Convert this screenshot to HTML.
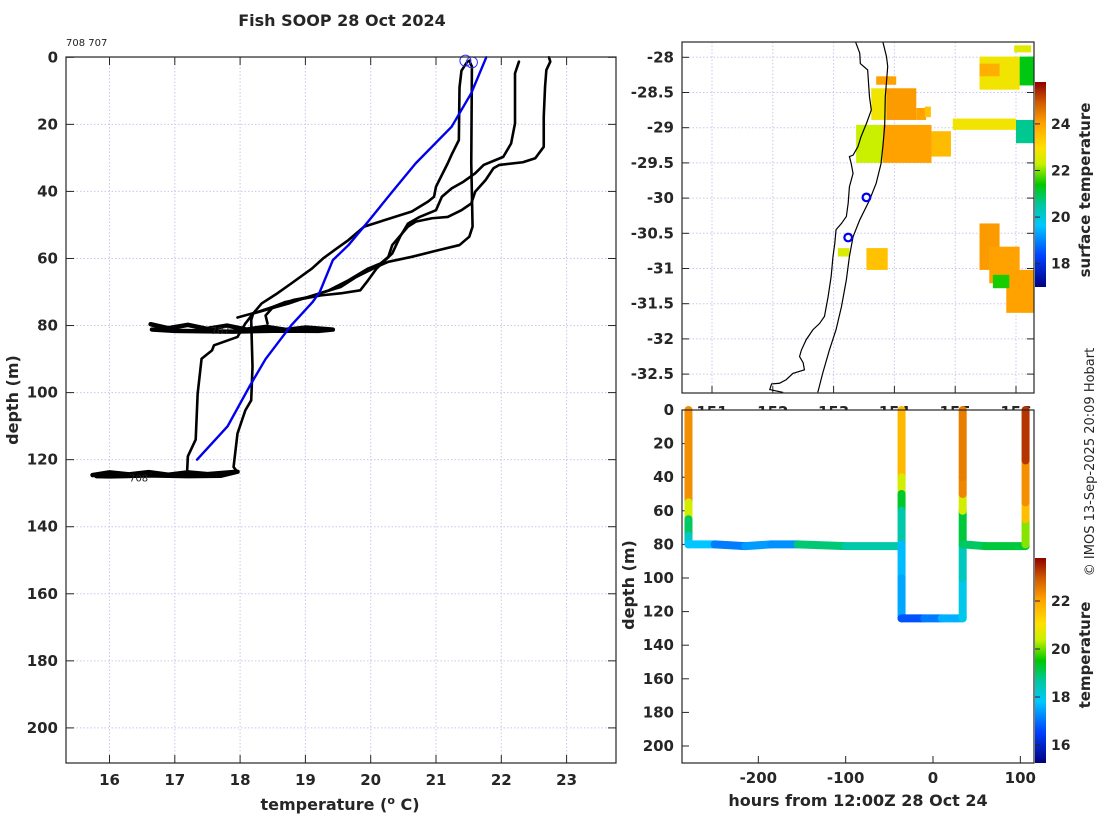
<!DOCTYPE html>
<html><head><meta charset="utf-8"><style>
html,body{margin:0;padding:0;background:#fff;}
svg{display:block;font-family:"DejaVu Sans","Liberation Sans",sans-serif;}
.tk{font-size:15px;font-weight:bold;fill:#262626;}
.lab{font-size:16px;font-weight:bold;fill:#262626;}
</style></head><body>
<svg id="chart" width="1100" height="820" viewBox="0 0 1100 820" xmlns="http://www.w3.org/2000/svg">
<defs>
<linearGradient id="jet" x1="0" y1="1" x2="0" y2="0">
<stop offset="0" stop-color="#00007f"/><stop offset="0.15" stop-color="#0040ff"/><stop offset="0.3" stop-color="#00c8ff"/><stop offset="0.4" stop-color="#00c8a0"/><stop offset="0.5" stop-color="#00c800"/><stop offset="0.6" stop-color="#c8f000"/><stop offset="0.68" stop-color="#ffe000"/><stop offset="0.8" stop-color="#ffa000"/><stop offset="0.9" stop-color="#d05a00"/><stop offset="1" stop-color="#8f0000"/>
</linearGradient>
</defs>
<g id="left"></g><g id="map"></g><g id="bottom"></g>
<text x="342" y="26" text-anchor="middle" class="lab">Fish SOOP 28 Oct 2024</text>
<text x="66" y="46" font-size="10" fill="#222">708 707</text>
<text x="340" y="810" text-anchor="middle" class="lab">temperature (<tspan font-size="11" dy="-6">o</tspan><tspan dy="6"> C)</tspan></text>
<text transform="translate(18,400) rotate(-90)" text-anchor="middle" class="lab">depth (m)</text>
<text x="858" y="806" text-anchor="middle" class="lab">hours from 12:00Z 28 Oct 24</text>
<text transform="translate(634,585) rotate(-90)" text-anchor="middle" class="lab">depth (m)</text>
<text transform="translate(1090,190) rotate(-90)" text-anchor="middle" font-size="15" font-weight="bold" fill="#262626">surface temperature</text>
<text transform="translate(1090,655) rotate(-90)" text-anchor="middle" font-size="15" font-weight="bold" fill="#262626">temperature</text>
<text transform="translate(1094,462) rotate(-90)" text-anchor="middle" font-size="13" fill="#262626">© IMOS 13-Sep-2025 20:09 Hobart</text>
</svg>
<script>
// ---------- data: left profiles ----------
const blueT=[21.77,21.54,21.24,20.69,20.33,19.96,19.66,19.42,19.22,19.11,18.78,18.39,18.14,17.81,17.34];
const blueD=[0,10.7,20.7,31.6,40.1,49,56,60.5,70,73,80,90,98.3,110,120];
const profAT=[21.48,21.39,21.36,21.35,21.24,21.18,21.0,20.97,20.88,20.63,19.9,19.66,19.48,19.27,19.1,18.78,18.57,18.33,18.2,18.08,17.96,17.6,17.57,17.41,17.35,17.32,17.2,17.19];
const profAD=[1.3,4,9,24.7,29,31.6,38.6,41.6,43,46,50.5,54.5,57,60,63,67.5,70.4,73.4,76.4,79.4,83.4,85.9,87.4,89.9,100.3,114,119,123];
const profBT=[21.51,21.55,21.54,21.56,21.51,21.36,21.0,20.63,20.27,20.09,19.78,19.54,19.05,18.75,18.2,18.17,18.19,18.17,18.08,17.96,17.9,17.96];
const profBD=[1,2.8,31.6,50.5,53.5,56,57.7,59.5,61,62.5,65.5,68.5,71.4,73.4,76.4,78.4,92.3,102.3,105.3,112.2,122.2,123.7];
const profCT=[22.27,22.21,22.21,22.15,22.03,21.73,21.6,21.42,21.24,21.09,21.0,20.75,20.57,20.45,20.33,20.09,19.96,19.84,19.54,19.24,18.69,18.51,18.39,18.42];
const profCD=[1.3,4.8,19.7,25.7,29.7,32.1,34.6,37.1,39.1,41.6,45.6,47.6,49.6,53.5,58.5,63,66.5,69.5,70.4,71,73,74.4,77,79.4];
const profDT=[22.73,22.75,22.69,22.67,22.65,22.65,22.52,22.33,21.97,21.88,21.76,21.6,21.54,21.39,21.18,20.94,20.69,20.57,20.33,20.27,20.15,19.96,19.66,19.36,19.05,18.81,18.51,18.26,17.96];
const profDD=[0,1.3,3.8,8.8,17.7,26.7,30.1,31.3,32.1,33.1,36.6,40.1,43.6,45.6,47.6,48,49,50.5,56,59.5,61.5,63,66.5,69.5,71.5,72.4,74.4,76,77.6];
const blob80T=[16.63,16.9,17.2,17.5,17.8,18.1,18.4,18.7,19.0,19.42,19.2,18.6,17.9,17.0,16.65];
const blob80D=[79.6,80.8,79.8,81.0,80.0,81.2,80.4,81.3,80.6,81.2,81.6,81.5,81.8,81.6,81.2];
const blob124T=[15.74,16.0,16.3,16.6,16.9,17.2,17.5,17.96,17.7,17.2,16.6,16.0,15.8];
const blob124D=[124.6,123.8,124.4,123.7,124.5,123.8,124.3,123.6,124.8,124.9,124.7,125.0,124.9];
const startT=[21.45,21.55];const startD=[1,1.5];
const leftXTicks=[16,17,18,19,20,21,22,23];
const leftYTicks=[0,20,40,60,80,100,120,140,160,180,200];
// ---------- data: map ----------
const coastLon=[153.36,153.43,153.44,153.56,153.59,153.62,153.54,153.45,153.40,153.32,153.26,153.29,153.32,153.26,153.24,153.21,153.13,153.04,153.02,152.99,152.96,152.91,152.85,152.77,152.66,152.55,152.47,152.44,152.50,152.52,152.33,152.22,152.11,151.98,151.95,152.17];
const coastLat=[-27.78,-27.94,-28.09,-28.18,-28.56,-28.75,-28.94,-29.13,-29.27,-29.39,-29.41,-29.51,-29.65,-29.84,-30.07,-30.26,-30.36,-30.45,-30.64,-30.83,-31.11,-31.40,-31.68,-31.78,-31.87,-32.01,-32.16,-32.25,-32.34,-32.44,-32.49,-32.58,-32.63,-32.64,-32.72,-32.76];
const isoLon=[153.81,153.87,153.89,153.85,153.84,153.81,153.78,153.70,153.59,153.43,153.32,153.26,153.21,153.13,153.04,152.93,152.82,152.74];
const isoLat=[-27.78,-27.99,-28.13,-28.56,-28.98,-29.27,-29.51,-29.79,-30.03,-30.31,-30.55,-30.83,-31.16,-31.54,-31.87,-32.16,-32.49,-32.76];
const sstLon0=[155.40,155.40,156.06,153.70,153.62,153.87,154.36,153.37,153.81,154.61,156.0,154.96,153.54,153.07,155.40,155.56,155.84,155.62,155.97,154.5];
const sstLon1=[156.06,155.73,156.29,154.03,153.87,154.36,154.52,153.81,154.61,154.93,156.29,156.0,153.89,153.26,155.73,156.06,156.29,155.89,156.25,154.6];
const sstLat0=[-27.99,-28.09,-27.99,-28.27,-28.44,-28.44,-28.72,-28.96,-28.96,-29.05,-28.89,-28.87,-30.71,-30.71,-30.36,-30.69,-31.02,-31.09,-27.83,-28.70];
const sstLat1=[-28.46,-28.27,-28.40,-28.39,-28.89,-28.89,-28.89,-29.50,-29.50,-29.41,-29.22,-29.03,-31.02,-30.83,-31.02,-31.21,-31.63,-31.28,-27.93,-28.85];
const sstVal=[22.8,23.8,21.3,24.0,22.8,24.1,24.0,22.3,24.0,23.6,20.6,22.8,23.5,22.5,24.1,24.0,24.0,21.5,22.6,23.5];
const shipLon=[153.54,153.24];const shipLat=[-29.99,-30.56];
const mapLonTicks=[151,152,153,154,155,156];
const mapLatTicks=[-28,-28.5,-29,-29.5,-30,-30.5,-31,-31.5,-32,-32.5];
const sstCbTicks=[18,20,22,24];
// ---------- data: track section ----------
const trkH=[-280,-280,-280,-280,-280,-250,-215,-185,-155,-100,-36,-36,-36,-36,-36,-36,-36,-36,-36,-10,10,34,34,34,34,34,34,34,34,60,106,106,106,106,106,106];
const trkD=[0,55,65,75,80,80,81,80,80,81,81,0,40,50,60,80,100,124,124,124,124,124,100,80,60,50,40,0,80,81,81,80,65,55,30,0];
const trkT=[22.5,22.3,20.5,19.0,18.3,17.8,17.1,17.4,17.3,18.9,18.6,21.8,21.7,20.5,19.3,18.6,17.7,17.5,16.9,16.7,17.1,17.6,18.0,18.4,19.2,20.5,22.4,22.5,18.6,19.0,19.2,19.2,20.1,21.6,22.3,23.3];
const trkBreak=[11,28]; // indexes where a new pen segment starts
const botXTicks=[-200,-100,0,100];
const botYTicks=[0,20,40,60,80,100,120,140,160,180,200];
const tCbTicks=[16,18,20,22];

// ---------- helpers ----------
const NS='http://www.w3.org/2000/svg';
function mk(parent,tag,attrs){const e=document.createElementNS(NS,tag);for(const k in attrs)e.setAttribute(k,attrs[k]);parent.appendChild(e);return e;}
const stops=[[0,[0,0,127]],[0.15,[0,64,255]],[0.3,[0,200,255]],[0.4,[0,200,160]],[0.5,[0,200,0]],[0.6,[200,240,0]],[0.68,[255,224,0]],[0.8,[255,160,0]],[0.9,[208,90,0]],[1,[143,0,0]]];
function jet(f){f=Math.max(0,Math.min(1,f));for(let i=1;i<stops.length;i++){if(f<=stops[i][0]){const a=stops[i-1],b=stops[i];const u=(f-a[0])/(b[0]-a[0]);const c=a[1].map((v,j)=>Math.round(v+(b[1][j]-v)*u));return 'rgb('+c.join(',')+')';}}return 'rgb(143,0,0)';}

// ---------- left plot ----------
const xL=t=>109.5+(t-16)*65.3, yL=d=>57.3+d*3.353;
const L=document.getElementById('left');
const LX0=66,LX1=616,LY0=57,LY1=763;
leftXTicks.forEach(t=>{const l=mk(L,'line',{x1:xL(t),x2:xL(t),y1:LY0,y2:LY1,stroke:'#c8c8ec','stroke-dasharray':'1.5,2','stroke-width':1});
 const a=mk(L,'line',{x1:xL(t),x2:xL(t),y1:LY1,y2:LY1-8,stroke:'#262626'});
 const b=mk(L,'line',{x1:xL(t),x2:xL(t),y1:LY0,y2:LY0+8,stroke:'#262626'});
 const s=mk(L,'text',{x:xL(t),y:LY1+22,'text-anchor':'middle',class:'tk'});s.textContent=t;});
leftYTicks.forEach(d=>{const l=mk(L,'line',{x1:LX0,x2:LX1,y1:yL(d),y2:yL(d),stroke:'#c8c8ec','stroke-dasharray':'1.5,2'});
 const a=mk(L,'line',{x1:LX0,x2:LX0+8,y1:yL(d),y2:yL(d),stroke:'#262626'});
 const b=mk(L,'line',{x1:LX1,x2:LX1-8,y1:yL(d),y2:yL(d),stroke:'#262626'});
 const s=mk(L,'text',{x:LX0-8,y:yL(d)+5,'text-anchor':'end',class:'tk'});s.textContent=d;});
function pline(g,T,D,col,w,name){const p=mk(g,'polyline',{points:T.map((t,i)=>xL(t)+','+yL(D[i])).join(' '),fill:'none',stroke:col,'stroke-width':w,'stroke-linejoin':'round','stroke-linecap':'round'});}
pline(L,blob80T,blob80D,'#000',4.5,'profile-bottom-scatter-80m');
pline(L,blob124T,blob124D,'#000',4.5,'profile-bottom-scatter-124m');
pline(L,profAT,profAD,'#000',2.6,'profile-a');
pline(L,profBT,profBD,'#000',2.6,'profile-b');
pline(L,profCT,profCD,'#000',2.6,'profile-c');
pline(L,profDT,profDD,'#000',2.6,'profile-d');
pline(L,blueT,blueD,'#0000ee',2.4,'climatology-profile');
startT.forEach((t,i)=>{const c=mk(L,'circle',{cx:xL(t),cy:yL(startD[i]),r:5.5,fill:'none',stroke:'#3030ff','stroke-width':1});});
{const a=mk(L,'text',{x:xL(17.55),y:yL(82.5),'font-size':10,fill:'#222'});a.textContent='707';
 const b=mk(L,'text',{x:xL(16.3),y:yL(126.5),'font-size':10,fill:'#222'});b.textContent='708';}
{const r=mk(L,'rect',{x:LX0,y:LY0,width:LX1-LX0,height:LY1-LY0,fill:'none',stroke:'#262626','stroke-width':1.2});}

// ---------- map ----------
const xM=lon=>712+(lon-151)*60.8, yM=lat=>57.3+(-28-lat)*70.4;
const M=document.getElementById('map');
const MX0=682,MX1=1034,MY0=42,MY1=393;
mapLonTicks.forEach(v=>{const l=mk(M,'line',{x1:xM(v),x2:xM(v),y1:MY0,y2:MY1,stroke:'#c8c8ec','stroke-dasharray':'1.5,2'});
 const a=mk(M,'line',{x1:xM(v),x2:xM(v),y1:MY1,y2:MY1-7,stroke:'#262626'});
 const s=mk(M,'text',{x:xM(v),y:MY1+24,'text-anchor':'middle',class:'tk'});s.textContent=v;});
mapLatTicks.forEach(v=>{const l=mk(M,'line',{x1:MX0,x2:MX1,y1:yM(v),y2:yM(v),stroke:'#c8c8ec','stroke-dasharray':'1.5,2'});
 const a=mk(M,'line',{x1:MX0,x2:MX0+7,y1:yM(v),y2:yM(v),stroke:'#262626'});
 const b=mk(M,'line',{x1:MX1,x2:MX1-7,y1:yM(v),y2:yM(v),stroke:'#262626'});
 const s=mk(M,'text',{x:MX0-8,y:yM(v)+5,'text-anchor':'end',class:'tk'});s.textContent=v;});
const sstF=v=>(v-17)/8.8;
sstVal.forEach((v,i)=>{const r=mk(M,'rect',{x:xM(sstLon0[i]),y:yM(sstLat0[i]),width:xM(sstLon1[i])-xM(sstLon0[i]),height:yM(sstLat1[i])-yM(sstLat0[i]),fill:jet(sstF(v))});});
{const p=mk(M,'polyline',{points:coastLon.map((v,i)=>xM(v)+','+yM(coastLat[i])).join(' '),fill:'none',stroke:'#000','stroke-width':1.2});
 const q=mk(M,'polyline',{points:isoLon.map((v,i)=>xM(v)+','+yM(isoLat[i])).join(' '),fill:'none',stroke:'#000','stroke-width':1.2});}
shipLon.forEach((v,i)=>{const c=mk(M,'circle',{cx:xM(v),cy:yM(shipLat[i]),r:3.8,fill:'none',stroke:'#0000ee','stroke-width':2.2});});
{const r=mk(M,'rect',{x:MX0,y:MY0,width:MX1-MX0,height:MY1-MY0,fill:'none',stroke:'#262626','stroke-width':1.2});}
const ySC=v=>287-(v-17)*23.3;
{const r=mk(M,'rect',{x:1035,y:82,width:11,height:205,fill:'url(#jet)'});}
sstCbTicks.forEach(v=>{const a=mk(M,'line',{x1:1035,x2:1040,y1:ySC(v),y2:ySC(v),stroke:'#262626'});
 const s=mk(M,'text',{x:1051,y:ySC(v)+5,'font-size':14,'font-weight':'bold',fill:'#262626'});s.textContent=v;});

// ---------- bottom section ----------
const xB=h=>933+h*0.8733, yB=d=>410+d*1.68;
const B=document.getElementById('bottom');
const BX0=682,BX1=1034,BY0=410,BY1=763;
{const r=mk(B,'rect',{x:BX0,y:BY0,width:BX1-BX0,height:BY1-BY0,fill:'#fff'});}
botXTicks.forEach(v=>{const a=mk(B,'line',{x1:xB(v),x2:xB(v),y1:BY1,y2:BY1-7,stroke:'#262626'});
 const s=mk(B,'text',{x:xB(v),y:BY1+20,'text-anchor':'middle',class:'tk'});s.textContent=v;});
botYTicks.forEach(v=>{const a=mk(B,'line',{x1:BX0,x2:BX0+7,y1:yB(v),y2:yB(v),stroke:'#262626'});
 const s=mk(B,'text',{x:BX0-8,y:yB(v)+5,'text-anchor':'end',class:'tk'});s.textContent=v;});
const tF=v=>(v-15.25)/8.55;
for(let i=1;i<trkH.length;i++){if(trkBreak.indexOf(i)>=0)continue;
 const l=mk(B,'line',{x1:xB(trkH[i-1]),y1:yB(trkD[i-1]),x2:xB(trkH[i]),y2:yB(trkD[i]),stroke:jet(tF(trkT[i])),'stroke-width':8,'stroke-linecap':'round'});
 
 }
{const r=mk(B,'rect',{x:BX0,y:BY0,width:BX1-BX0,height:BY1-BY0,fill:'none',stroke:'#262626','stroke-width':1.2});}
const yTC=v=>745-(v-16)*24;
{const r=mk(B,'rect',{x:1035,y:558,width:11,height:205,fill:'url(#jet)'});}
tCbTicks.forEach(v=>{const a=mk(B,'line',{x1:1035,x2:1040,y1:yTC(v),y2:yTC(v),stroke:'#262626'});
 const s=mk(B,'text',{x:1051,y:yTC(v)+5,'font-size':14,'font-weight':'bold',fill:'#262626'});s.textContent=v;});
</script>
</body></html>
